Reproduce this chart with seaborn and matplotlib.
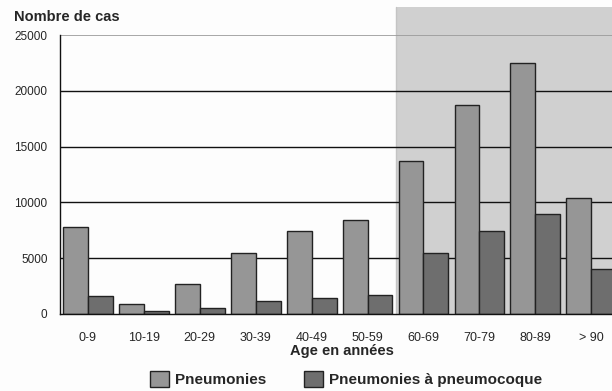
import matplotlib
matplotlib.use("Agg")
import matplotlib.pyplot as plt
import seaborn as sns
import pandas as pd
from matplotlib.patches import Patch

# Age groups and case counts
age_groups = ["0-9", "10-19", "20-29", "30-39", "40-49", "50-59",
              "60-69", "70-79", "80-89", "> 90"]
pneumonies = [7770, 870, 2700, 5500, 7400, 8400, 13750, 18700, 22450, 10350]
pneumonies_pneumo = [1600, 250, 550, 1150, 1450, 1700, 5500, 7450, 9000, 4050]
series_names = ["Pneumonies", "Pneumonies à pneumocoque"]
y_ticks = [0, 5000, 10000, 15000, 20000, 25000]

df = pd.DataFrame({
    "age": age_groups * 2,
    "cas": pneumonies + pneumonies_pneumo,
    "serie": [series_names[0]] * len(age_groups) + [series_names[1]] * len(age_groups),
})

sns.set_style("white")
plt.rcParams["font.family"] = ["Liberation Sans", "DejaVu Sans"]

W, H = 612, 391
fig = plt.figure(figsize=(W / 100, H / 100), dpi=100)
fig.patch.set_facecolor("#fdfdfd")
ax = fig.add_axes([60 / W, (H - 314) / H, (612 - 60) / W, (314 - 35) / H])
ax.set_facecolor("#fdfdfd")

colors = ["#969696", "#6e6e6e"]
sns.barplot(data=df, x="age", y="cas", hue="serie", hue_order=series_names,
            order=age_groups, palette=colors, width=0.89, saturation=1,
            edgecolor="#222222", linewidth=1.0, ax=ax, legend=False, zorder=3)

ax.set_yticks(y_ticks)
ax.set_yticklabels([str(v) for v in y_ticks], fontsize=8.5)
ax.set_xticks(range(len(age_groups)))
ax.set_xticklabels(age_groups, fontsize=9)
ax.set_xticks([i - 0.5 for i in range(len(age_groups) + 1)], minor=True)
ax.tick_params(axis="x", which="major", length=0, pad=13)
ax.tick_params(axis="x", which="minor", length=4, width=1, color="#111111", direction="out")
ax.tick_params(axis="y", length=4, width=1, color="#111111", direction="out", pad=5)

# the last age group runs past the right edge of the figure
ax.set_xlim(-0.5, -0.5 + 552 / 55.92)
ax.set_ylim(0, 25000)

# shaded band for the older age groups
ax.axvspan(5.5, 10, ymin=0, ymax=(314 - 7) / 279, color="#d0d0d0",
           zorder=0, clip_on=False, lw=0)
ax.axvline(5.5, ymin=0, ymax=(314 - 7) / 279, color="#c4c4c4", lw=1,
           zorder=0.5, clip_on=False)

# horizontal gridlines
for v in y_ticks[1:-1]:
    ax.axhline(v, color="#111111", lw=1.0, zorder=1)
ax.axhline(y_ticks[-1], color="#999999", lw=1.2, zorder=1)

for s in ["top", "right"]:
    ax.spines[s].set_visible(False)
for s in ["left", "bottom"]:
    ax.spines[s].set_color("#111111")
    ax.spines[s].set_linewidth(1.0)
    ax.spines[s].set_zorder(4)

ax.set_xlabel("")
ax.set_ylabel("")

fig.text(14 / W, 1 - 17 / H, "Nombre de cas", fontsize=10.5, fontweight="bold",
         ha="left", va="center")
fig.text(342 / W, 1 - 351 / H, "Age en années", fontsize=10.5, fontweight="bold",
         ha="center", va="center")

handles = [Patch(facecolor=colors[i], edgecolor="#222222", lw=1.0) for i in range(2)]
fig.legend(handles, series_names, loc="center", bbox_to_anchor=(346 / W, 1 - 379 / H),
           ncol=2, frameon=False, handlelength=1.25, handleheight=1.25,
           handletextpad=0.35, columnspacing=2.5, borderpad=0,
           prop={"weight": "bold", "size": 11})

fig.savefig("out.png", dpi=100, facecolor=fig.get_facecolor())
